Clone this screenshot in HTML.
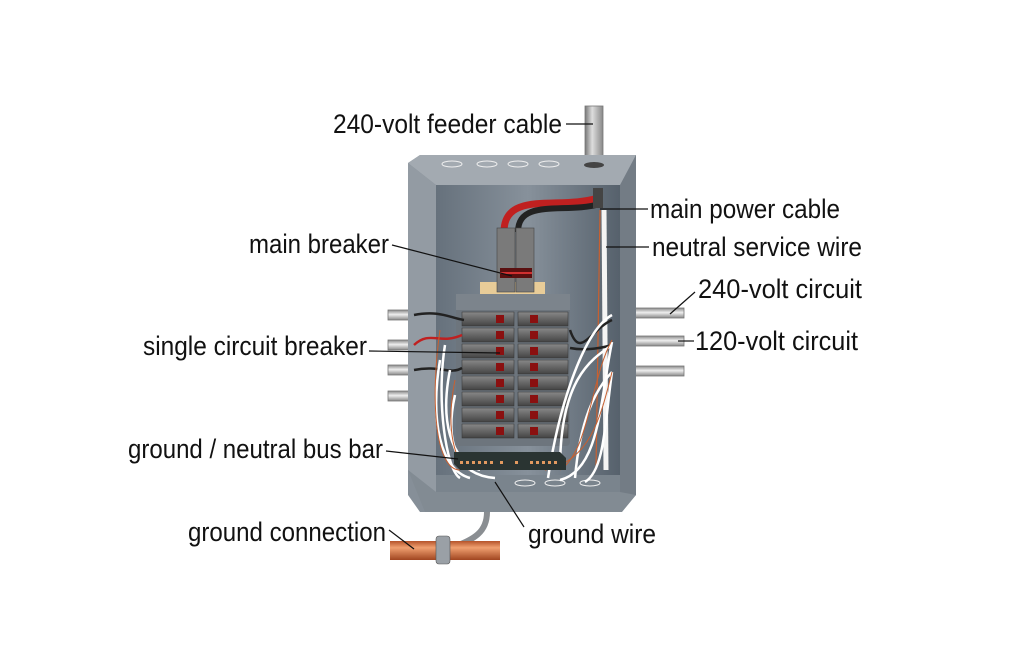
<!DOCTYPE html>
<html><head><meta charset="utf-8"><style>
html,body{margin:0;padding:0;background:#fff;width:1024px;height:658px;overflow:hidden}
svg{display:block}
text{font-family:"Liberation Sans Narrow","Liberation Sans",sans-serif;font-size:27px;fill:#111}
</style></head><body>
<svg width="1024" height="658" viewBox="0 0 1024 658">
<defs>
<linearGradient id="cond" x1="0" x2="1"><stop offset="0" stop-color="#777"/><stop offset=".4" stop-color="#ddd"/><stop offset="1" stop-color="#888"/></linearGradient>
<linearGradient id="condh" x1="0" y1="0" x2="0" y2="1"><stop offset="0" stop-color="#888"/><stop offset=".45" stop-color="#eee"/><stop offset="1" stop-color="#888"/></linearGradient>
<linearGradient id="pipe" x1="0" y1="0" x2="0" y2="1"><stop offset="0" stop-color="#b4532a"/><stop offset=".35" stop-color="#f0a070"/><stop offset="1" stop-color="#a04520"/></linearGradient>
<linearGradient id="inner" x1="0" x2="1"><stop offset="0" stop-color="#66717c"/><stop offset=".5" stop-color="#87919b"/><stop offset="1" stop-color="#56616c"/></linearGradient>
<linearGradient id="brk" x1="0" y1="0" x2="0" y2="1"><stop offset="0" stop-color="#888"/><stop offset=".5" stop-color="#666"/><stop offset="1" stop-color="#444"/></linearGradient>
</defs>
<g fill="url(#condh)" stroke="#777" stroke-width=".8">
<rect x="388" y="310" width="26" height="10"/><rect x="388" y="340" width="26" height="10"/><rect x="388" y="365" width="26" height="10"/><rect x="388" y="391" width="26" height="10"/>
<rect x="612" y="308" width="72" height="10"/><rect x="612" y="336" width="72" height="10"/><rect x="612" y="366" width="72" height="10"/>
</g>
<rect x="585" y="106" width="18" height="60" fill="url(#cond)" stroke="#777" stroke-width=".8"/>
<polygon points="408,163 420,155 636,155 636,495 620,512 420,512 408,495" fill="#868f98"/>
<polygon points="408,163 420,155 636,155 622,185 436,185" fill="#a3aab1"/>
<polygon points="636,155 636,495 620,495 620,185" fill="#737c85"/>
<polygon points="408,470 408,163 436,185 436,492" fill="#939ba3"/>
<polygon points="408,470 425,512 622,512 636,495 620,492 436,492" fill="#828b93"/>
<rect x="436" y="185" width="184" height="307" fill="url(#inner)"/>
<polygon points="436,475 620,475 620,492 436,492" fill="#7a848d"/>
<g fill="none" stroke="#eee" stroke-width="1">
<ellipse cx="452" cy="164" rx="10" ry="3"/><ellipse cx="487" cy="164" rx="10" ry="3"/><ellipse cx="518" cy="164" rx="10" ry="3"/><ellipse cx="549" cy="164" rx="10" ry="3"/>
<ellipse cx="525" cy="483" rx="10" ry="3"/><ellipse cx="555" cy="483" rx="10" ry="3"/><ellipse cx="590" cy="483" rx="10" ry="3"/>
</g>
<ellipse cx="594" cy="165" rx="10" ry="3" fill="#444"/>
<path d="M504,232 C504,190 560,210 598,198" stroke="#c02020" stroke-width="7" fill="none"/>
<path d="M518,232 C518,198 565,214 600,204" stroke="#222" stroke-width="6" fill="none"/>
<path d="M598,188 L598,208" stroke="#444" stroke-width="10"/>
<path d="M604,210 L606,470" stroke="#f4f4f4" stroke-width="5"/>
<path d="M600,210 L596,470" stroke="#c86030" stroke-width="1.2"/>
<polygon points="480,282 545,282 545,300 480,300" fill="#e8cc98"/>
<rect x="497" y="228" width="18" height="64" fill="#7a7a7a" stroke="#444" stroke-width=".6"/>
<rect x="516" y="228" width="18" height="64" fill="#7a7a7a" stroke="#444" stroke-width=".6"/>
<rect x="500" y="268" width="32" height="10" fill="#5a1010"/><rect x="500" y="272" width="32" height="2" fill="#d03030"/>
<rect x="456" y="294" width="114" height="152" rx="4" fill="#6d757d"/>
<g fill="url(#brk)" stroke="#333" stroke-width=".5">
<rect x="462" y="312" width="52" height="14"/><rect x="518" y="312" width="50" height="14"/>
<rect x="462" y="328" width="52" height="14"/><rect x="518" y="328" width="50" height="14"/>
<rect x="462" y="344" width="52" height="14"/><rect x="518" y="344" width="50" height="14"/>
<rect x="462" y="360" width="52" height="14"/><rect x="518" y="360" width="50" height="14"/>
<rect x="462" y="376" width="52" height="14"/><rect x="518" y="376" width="50" height="14"/>
<rect x="462" y="392" width="52" height="14"/><rect x="518" y="392" width="50" height="14"/>
<rect x="462" y="408" width="52" height="14"/><rect x="518" y="408" width="50" height="14"/>
<rect x="462" y="424" width="52" height="14"/><rect x="518" y="424" width="50" height="14"/>
</g>
<g fill="#8a1010">
<rect x="496" y="315" width="8" height="8"/><rect x="530" y="315" width="8" height="8"/>
<rect x="496" y="331" width="8" height="8"/><rect x="530" y="331" width="8" height="8"/>
<rect x="496" y="347" width="8" height="8"/><rect x="530" y="347" width="8" height="8"/>
<rect x="496" y="363" width="8" height="8"/><rect x="530" y="363" width="8" height="8"/>
<rect x="496" y="379" width="8" height="8"/><rect x="530" y="379" width="8" height="8"/>
<rect x="496" y="395" width="8" height="8"/><rect x="530" y="395" width="8" height="8"/>
<rect x="496" y="411" width="8" height="8"/><rect x="530" y="411" width="8" height="8"/>
<rect x="496" y="427" width="8" height="8"/><rect x="530" y="427" width="8" height="8"/>
</g>
<rect x="456" y="294" width="114" height="16" fill="#7c848c"/>
<g fill="none" stroke-width="2.5">
<path d="M414,315 C440,310 450,318 464,320" stroke="#222"/>
<path d="M414,345 C430,330 440,345 462,335" stroke="#c02020"/>
<path d="M414,370 C440,365 450,375 462,368" stroke="#222"/>
<path d="M440,360 C430,420 440,470 470,478" stroke="#fff"/>
<path d="M450,370 C440,420 450,460 480,470" stroke="#fff"/>
<path d="M445,345 C436,400 446,470 460,478" stroke="#fff"/>
<path d="M455,395 C445,440 455,475 495,478" stroke="#fff"/>
<path d="M612,320 C590,330 580,360 570,330" stroke="#222"/>
<path d="M612,345 C595,350 580,350 570,348" stroke="#222"/>
<path d="M612,345 C590,360 560,380 560,470" stroke="#fff"/>
<path d="M612,372 C595,390 580,420 575,478" stroke="#fff"/>
<path d="M612,315 C585,330 560,400 548,478" stroke="#fff"/>
<path d="M612,342 C600,400 600,470 560,480" stroke="#fff"/>
<path d="M612,372 C605,420 605,470 585,482" stroke="#fff"/>
</g>
<g fill="none" stroke="#c86030" stroke-width="1">
<path d="M440,330 C430,400 435,470 460,470"/><path d="M455,380 C445,430 455,465 470,470"/>
<path d="M612,340 C590,380 590,450 560,470"/><path d="M612,372 C600,420 590,460 545,470"/>
</g>
<polygon points="454,452 560,452 566,458 566,470 460,470 454,464" fill="#2a3432"/>
<g fill="#e39a60">
<rect x="460" y="461" width="3" height="3"/><rect x="466" y="461" width="3" height="3"/><rect x="472" y="461" width="3" height="3"/><rect x="478" y="461" width="3" height="3"/><rect x="484" y="461" width="3" height="3"/><rect x="490" y="461" width="3" height="3"/><rect x="500" y="461" width="3" height="3"/><rect x="515" y="461" width="3" height="3"/><rect x="530" y="461" width="3" height="3"/><rect x="536" y="461" width="3" height="3"/><rect x="542" y="461" width="3" height="3"/><rect x="548" y="461" width="3" height="3"/><rect x="554" y="461" width="3" height="3"/>
</g>
<path d="M487,512 C487,535 470,540 452,548" stroke="#8a8e92" stroke-width="6" fill="none"/>
<rect x="390" y="541" width="110" height="19" fill="url(#pipe)"/>
<rect x="436" y="536" width="14" height="28" rx="3" fill="#9aa0a6" stroke="#555" stroke-width=".6"/>
<g stroke="#111" stroke-width="1.2" fill="none">
<path d="M566,124 H593"/><path d="M600,209 H648"/><path d="M392,245 L512,276"/>
<path d="M606,247 H649"/><path d="M670,314 L695,292"/><path d="M678,341 H694"/>
<path d="M369,351 L500,353"/><path d="M386,451 L458,459"/><path d="M389,530 L414,549"/>
<path d="M524,527 L495,482"/>
</g>
<text x="333" y="133" textLength="229" lengthAdjust="spacingAndGlyphs">240-volt feeder cable</text>
<text x="650" y="218" textLength="190" lengthAdjust="spacingAndGlyphs">main power cable</text>
<text x="249" y="253" textLength="140" lengthAdjust="spacingAndGlyphs">main breaker</text>
<text x="652" y="256" textLength="210" lengthAdjust="spacingAndGlyphs">neutral service wire</text>
<text x="698" y="298" textLength="164" lengthAdjust="spacingAndGlyphs">240-volt circuit</text>
<text x="695" y="350" textLength="163" lengthAdjust="spacingAndGlyphs">120-volt circuit</text>
<text x="143" y="355" textLength="224" lengthAdjust="spacingAndGlyphs">single circuit breaker</text>
<text x="128" y="458" textLength="255" lengthAdjust="spacingAndGlyphs">ground / neutral bus bar</text>
<text x="188" y="541" textLength="198" lengthAdjust="spacingAndGlyphs">ground connection</text>
<text x="528" y="543" textLength="128" lengthAdjust="spacingAndGlyphs">ground wire</text>
</svg>
</body></html>
